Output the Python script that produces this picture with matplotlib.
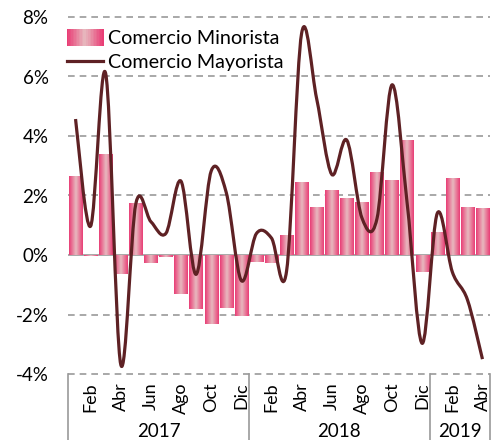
import numpy as np
import matplotlib
matplotlib.use("Agg")
import matplotlib.pyplot as plt
from matplotlib.path import Path
from matplotlib.patches import PathPatch, Rectangle
from matplotlib.lines import Line2D
from matplotlib.legend_handler import HandlerBase
from matplotlib.colors import LinearSegmentedColormap

plt.rcParams['font.family'] = ['Lato', 'DejaVu Sans']

# monthly data, Jan 2017 - Apr 2019
meses = ["Ene", "Feb", "Mar", "Abr", "May", "Jun", "Jul", "Ago", "Sep", "Oct", "Nov", "Dic"]
years = ["2017", "2018", "2019"]
months_per_year = [12, 12, 4]

minorista = [2.67, -0.05, 3.40, -0.65, 1.76, -0.28, -0.06, -1.30, -1.82, -2.31, -1.77, -2.04,
             -0.23, -0.28, 0.68, 2.47, 1.63, 2.17, 1.93, 1.77, 2.78, 2.51, 3.86, -0.56,
             0.78, 2.58, 1.63, 1.59]
mayorista = [4.57, 0.97, 6.10, -3.68, 1.72, 1.12, 0.73, 2.48, -0.65, 2.82, 2.10, -0.86,
             0.72, 0.57, -0.55, 7.45, 5.25, 2.71, 3.86, 1.25, 1.22, 5.72, 1.75, -2.97,
             1.40, -0.57, -1.50, -3.50]

labels = []
for n in months_per_year:
    labels += meses[:n]
x = np.arange(len(minorista))

edge = np.array([233, 62, 118]) / 255
mid = np.array([231, 186, 191]) / 255
grad = LinearSegmentedColormap.from_list("grad", [edge, mid, edge])
line_col = "#5e2124"

fig = plt.figure(figsize=(4.97, 4.40), dpi=100)
ax = fig.add_axes([68 / 497, 1 - 374 / 440, 422 / 497, 357 / 440])

# gridlines
for v in [-4, -2, 2, 4, 6, 8]:
    ax.axhline(v, color="#999999", lw=1.2, ls=(0, (4, 3)), zorder=0, clip_on=False)
ax.axhline(0, color="#999999", lw=1.2, zorder=1)

# bars with horizontal gradient
bars = ax.bar(x, minorista, width=0.88, color="none", lw=0, zorder=2)
img = np.linspace(0, 1, 64).reshape(1, -1)
for b in bars:
    x0, y0 = b.get_x(), b.get_y()
    w, h = b.get_width(), b.get_height()
    im = ax.imshow(img, cmap=grad, aspect="auto", extent=[x0, x0 + w, y0, y0 + h],
                   zorder=2, interpolation="bilinear")
    im.set_clip_path(b)
ax.set_xlim(-0.5, len(x) - 0.5)
ax.set_ylim(-4, 8)

# smoothed line (bezier through points, like the spreadsheet smoothing)
pts = np.column_stack([x, mayorista]).astype(float)
verts = [pts[0]]
codes = [Path.MOVETO]
for i in range(len(pts) - 1):
    p0 = pts[i - 1] if i > 0 else pts[i]
    p1, p2 = pts[i], pts[i + 1]
    p3 = pts[i + 2] if i + 2 < len(pts) else pts[i + 1]
    c1 = p1 + (p2 - p0) / 6
    c2 = p2 - (p3 - p1) / 6
    verts += [c1, c2, p2]
    codes += [Path.CURVE4] * 3
line = PathPatch(Path(verts, codes), facecolor="none", edgecolor=line_col, lw=2.3,
                 zorder=3, capstyle="butt", joinstyle="round")
ax.add_patch(line)

for s in ax.spines.values():
    s.set_visible(False)

ax.set_yticks([-4, -2, 0, 2, 4, 6, 8])
ax.set_yticklabels([f"{v}%" for v in [-4, -2, 0, 2, 4, 6, 8]], fontsize=13.5)
ax.tick_params(axis="y", length=0, pad=14)

tick_pos = [i for i in x if i % 2 == 1]
ax.set_xticks(tick_pos)
ax.set_xticklabels([labels[i] for i in tick_pos], rotation=90, fontsize=13)
ax.tick_params(axis="x", length=0, pad=6)

# category box under the axis
tr = ax.get_xaxis_transform()
bounds = [-0.5]
for n in months_per_year:
    bounds.append(bounds[-1] + n)
for bx in bounds:
    ax.plot([bx, bx], [0, -66 / 357], color="#999999", lw=1.2, transform=tr, clip_on=False)
for i, yr in enumerate(years):
    ax.text((bounds[i] + bounds[i + 1]) / 2, -57 / 357, yr, transform=tr,
            ha="center", va="center", fontsize=13.5)


class GradientHandler(HandlerBase):
    def create_artists(self, legend, orig_handle, xdescent, ydescent, width, height, fontsize, trans):
        n = 24
        arts = []
        for k in range(n):
            arts.append(Rectangle((-xdescent + k * width / n, -ydescent - 1), width / n + 0.3, height + 2,
                                  facecolor=grad(k / (n - 1)), lw=0, transform=trans))
        return arts


h_bar = Rectangle((0, 0), 1, 1)
h_line = Line2D([], [], color=line_col, lw=2.3)
ax.legend([h_bar, h_line], ["Comercio Minorista", "Comercio Mayorista"],
          handler_map={Rectangle: GradientHandler()},
          loc="upper left", bbox_to_anchor=(-0.003, 0.963), frameon=False,
          fontsize=14.2, handlelength=1.85, handletextpad=0.22, labelspacing=0.36,
          borderpad=0, borderaxespad=0)

fig.savefig("out.png", dpi=100)
